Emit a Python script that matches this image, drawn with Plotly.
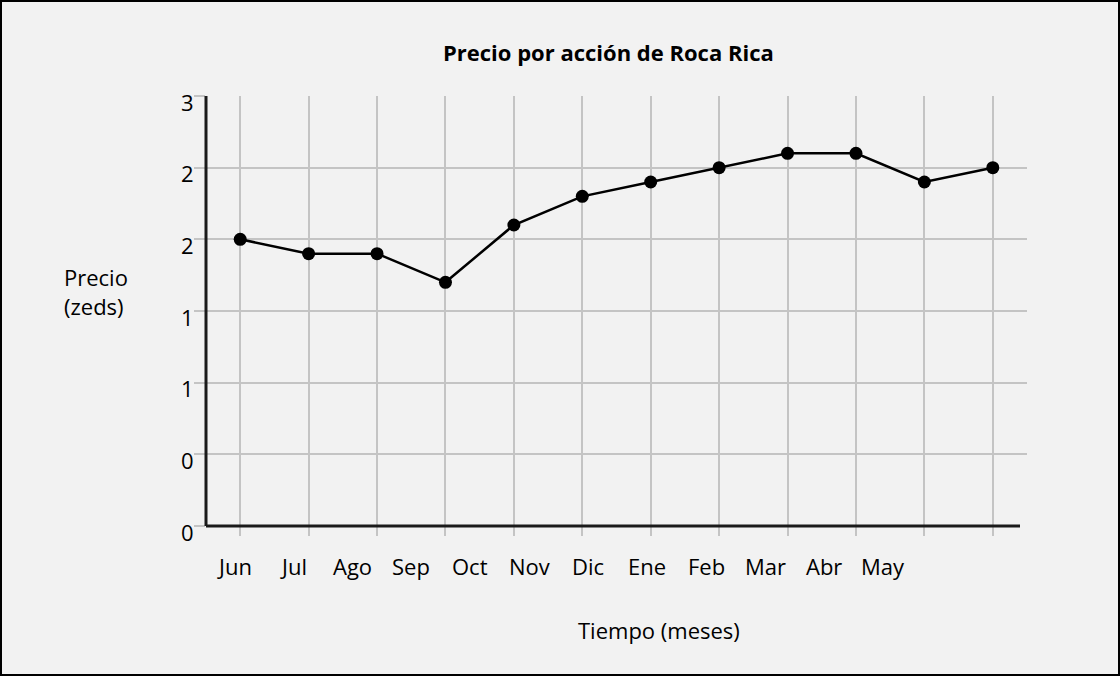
import plotly.graph_objects as go

# ---- data ----
months = ["Jun", "Jul", "Ago", "Sep", "Oct", "Nov", "Dic", "Ene", "Feb", "Mar", "Abr", "May"]
prices = [2.0, 1.9, 1.9, 1.7, 2.1, 2.3, 2.4, 2.5, 2.6, 2.6, 2.4, 2.5]
y_tickvals = [0, 0.5, 1, 1.5, 2, 2.5, 3]
y_ticktext = ["0", "0", "1", "1", "2", "2", "3"]
title_text = "<b>Precio por acción de Roca Rica</b>"
x_title = "Tiempo (meses)"
y_title = "Precio<br>(zeds)"

# ---- styling / layout constants ----
W, H = 1120, 676
ML, MR, MT, MB = 206, 93, 96, 150
BG = "#f2f2f2"
GRID = "#c4c4c4"
FONT = "Open Sans"
label_start, label_step = -0.085, 0.862   # month labels are not aligned with the grid

x_idx = list(range(len(prices)))

fig = go.Figure()
fig.add_trace(go.Scatter(
    x=x_idx, y=prices, mode="lines+markers",
    line=dict(color="black", width=2.5),
    marker=dict(color="black", size=13),
    hoverinfo="skip", showlegend=False,
))

pw = W - ML - MR
ph = H - MT - MB

annotations = []
for i, m in enumerate(months):
    annotations.append(dict(
        x=label_start + label_step * i, y=0, xref="x", yref="paper",
        yshift=-40, text=m, showarrow=False, xanchor="center", yanchor="middle",
        font=dict(family=FONT, size=22, color="black"),
    ))
annotations.append(dict(
    x=(659 - ML) / pw, y=(H - MB - 630) / ph, xref="paper", yref="paper",
    text=x_title, showarrow=False, xanchor="center", yanchor="middle",
    font=dict(family=FONT, size=22, color="black"),
))
annotations.append(dict(
    x=(62 - ML) / pw, y=(H - MB - 291) / ph, xref="paper", yref="paper",
    text=y_title, showarrow=False, xanchor="left", yanchor="middle", align="left",
    font=dict(family=FONT, size=22, color="black"),
))
annotations.append(dict(
    x=(608 - ML) / pw, y=(H - MB - 52) / ph, xref="paper", yref="paper",
    text=title_text, showarrow=False, xanchor="center", yanchor="middle",
    font=dict(family=FONT, size=22, color="black"),
))

shapes = [
    # figure border
    dict(type="rect", xref="paper", yref="paper",
         x0=(1 - ML) / pw, x1=(W - 1 - ML) / pw,
         y0=(H - MB - (H - 1)) / ph, y1=(H - MB - 1) / ph,
         line=dict(color="black", width=2), layer="below"),
    # left axis line
    dict(type="line", xref="paper", yref="paper", x0=0, x1=0, y0=0, y1=1,
         line=dict(color="#1a1a1a", width=3), layer="above"),
    # bottom axis line
    dict(type="line", xref="paper", yref="paper", x0=0, x1=(1020 - ML) / pw, y0=0, y1=0,
         line=dict(color="#1a1a1a", width=3), layer="above"),
]

fig.update_layout(
    width=W, height=H,
    margin=dict(l=ML, r=MR, t=MT, b=MB, pad=0),
    paper_bgcolor=BG, plot_bgcolor=BG,
    font=dict(family=FONT, size=22, color="black"),
    annotations=annotations,
    shapes=shapes,
    xaxis=dict(
        range=[-0.5, 11.5], tickvals=x_idx, showticklabels=False,
        showgrid=True, gridcolor=GRID, gridwidth=1.5,
        ticks="outside", ticklen=9, tickcolor=GRID, tickwidth=1.5,
        zeroline=False, showline=False, fixedrange=True,
    ),
    yaxis=dict(
        range=[0, 3], tickvals=y_tickvals, ticktext=y_ticktext,
        showgrid=True, gridcolor=GRID, gridwidth=1.5,
        ticks="outside", ticklen=11, tickcolor=GRID, tickwidth=1.5,
        ticklabelshift=7, ticklabelstandoff=-4,
        tickfont=dict(family=FONT, size=22, color="black"),
        zeroline=False, showline=False, fixedrange=True,
    ),
)

fig.write_html(
    "out.html",
    config={"displayModeBar": False},
    post_script="document.body.style.margin='0';document.body.style.overflow='hidden';",
)
